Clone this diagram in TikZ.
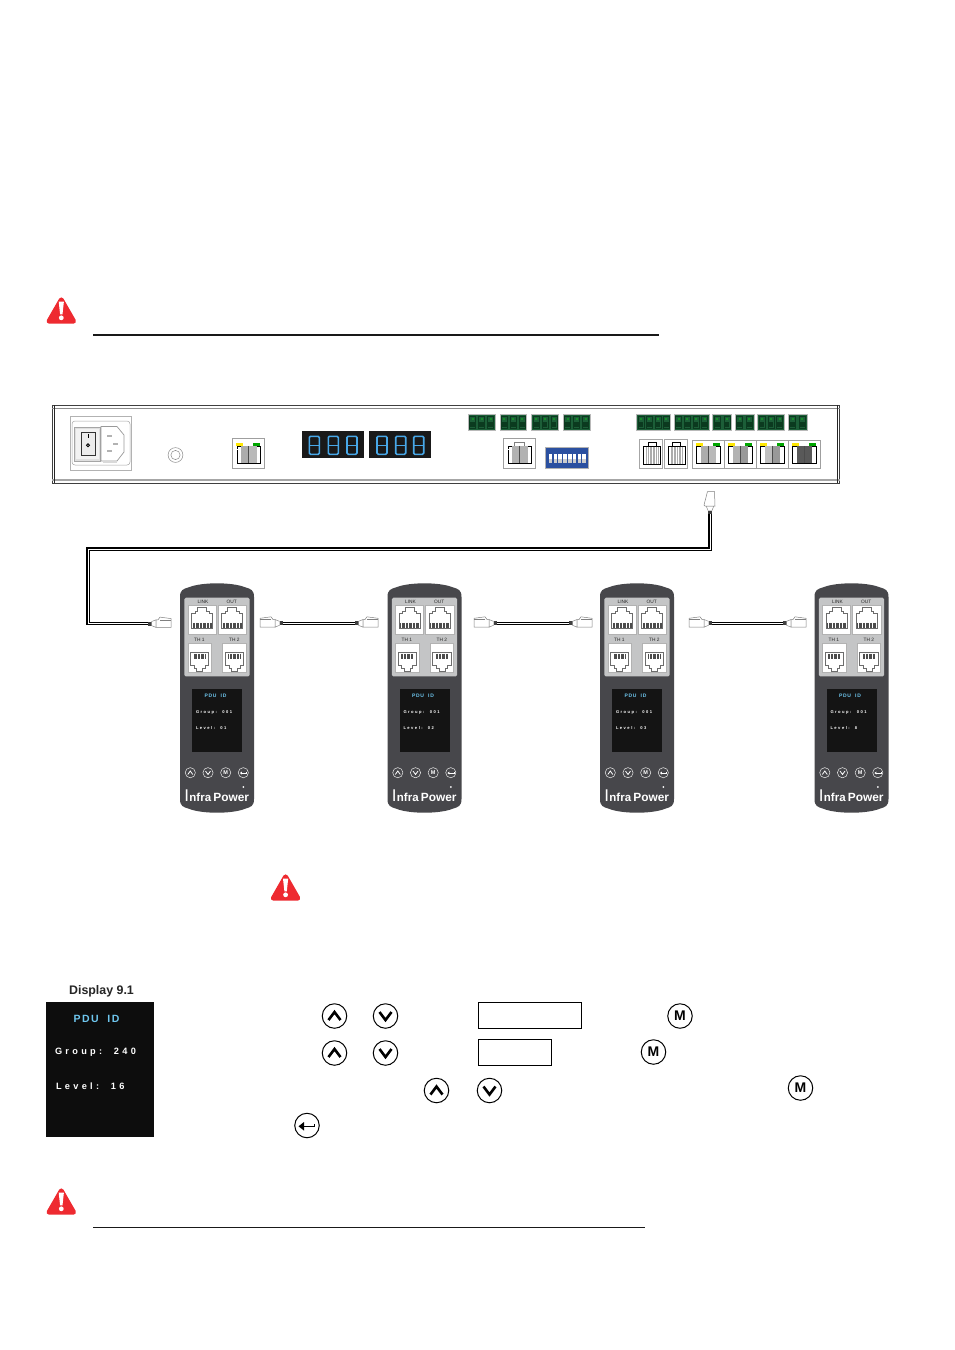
\documentclass[tikz,border=0pt]{standalone}
\usepackage{fontspec}
\setmainfont{Liberation Sans}
\newfontfamily\lsfont[LetterSpace=36]{Liberation Sans}
\newfontfamily\idfont[LetterSpace=14]{Liberation Sans}
\definecolor{warnred}{HTML}{EE2A30}
\definecolor{pdubody}{HTML}{47474B}
\definecolor{panelgray}{HTML}{C4C5C6}
\definecolor{lcdblue}{HTML}{48A8E8}
\definecolor{cyantext}{HTML}{6EC6EE}
\definecolor{termgreen}{HTML}{1C5E38}
\definecolor{termdark}{HTML}{0B3A1F}
\definecolor{dipblue}{HTML}{2B50A0}
\tikzset{
  x=1pt,y=-1pt,
  lbl/.style={inner sep=0pt,outer sep=0pt},
  cable/.style={draw=black,line width=1.15pt,double=white,double distance=1pt,line join=miter},
  thincable/.style={draw=black,line width=.85pt,double=white,double distance=.8pt},
  bigbtn/.style={circle,draw=black,line width=1pt,minimum size=24.5pt,inner sep=0pt,fill=white},
  outlinebox/.style={draw=black,line width=1pt,fill=white},
  jackline/.style={draw=gray!85!black,line width=.45pt},
}
% warning triangle: x = centre, y = top
\newcommand{\warnsign}[2]{%
  \begin{scope}[shift={(#1,#2)}]
    \filldraw[warnred,line width=5pt,line join=round] (0,1.4) -- (12.2,22.7) -- (-12.2,22.7) -- cycle;
    \fill[white] (-2.6,3) -- (2.6,3) -- (1.2,15.8) -- (-1.2,15.8) -- cycle;
    \fill[white] (0,19.3) circle (2.4);
  \end{scope}}
% big keypad buttons
\newcommand{\upbtn}[3]{\node[bigbtn] (#1) at (#2,#3) {};
  \draw[line width=2.6pt,line join=miter] (#2-6,#3+4) -- (#2,#3-4) -- (#2+6,#3+4);}
\newcommand{\downbtn}[3]{\node[bigbtn] (#1) at (#2,#3) {};
  \draw[line width=2.6pt,line join=miter] (#2-6,#3-4) -- (#2,#3+4) -- (#2+6,#3-4);}
\newcommand{\mbtn}[3]{\node[bigbtn,font=\bfseries\fontsize{14}{14}\selectfont] (#1) at (#2,#3) {M};}
% seven segment digit
\newcommand{\digit}[2]{%
  \draw[lcdblue,line width=1.6pt,rounded corners=1.2pt] (#1-5,#2) rectangle (#1+5,#2+18);
  \draw[lcdblue,line width=1.6pt] (#1-5,#2+9) -- (#1+5,#2+9);}
% green terminal block
\newcommand{\term}[3]{%
  \fill[termgreen] (#1,414.4) rectangle (#2,430);
  \draw[gray!55,line width=.5pt] (#1,414.4) rectangle (#2,430);
  \pgfmathsetmacro{\tw}{(#2-#1)/#3}
  \foreach \k in {1,...,#3}{
    \pgfmathsetmacro{\tc}{#1+(\k-.5)*\tw}
    \draw[termdark,line width=.6pt] (\tc-3,416.5) rectangle (\tc+3,428);
    \fill[termdark] (\tc-2.4,421.5) rectangle (\tc+2.4,427);
    \fill[green!30!termgreen] (\tc-1,418) rectangle (\tc+1,420);
  }}
% RJ45 on the rack: x, box top, leds, fill left, fill right
\newcommand{\rackport}[5]{%
  \begin{scope}[shift={(#1,438.3)}]
    \fill[white] (0,#2) rectangle (32,30);
    \draw[gray!75,line width=.8pt] (0,#2) rectangle (32,30);
    \ifnum#3=1
      \fill[yellow!90!orange] (3.4,4.4) rectangle (10.7,7.7);
      \fill[green!65!black] (20.4,4.4) rectangle (27.7,7.7);
    \else
      \draw[gray,line width=.4pt] (11,4) rectangle (21,8.4);
    \fi
    \draw[black,line width=.75pt] (4.4,25.4) -- (4.4,8.4) -- (27.6,8.4) -- (27.6,25.4) -- cycle;
    \fill[#4] (8.6,7.5) rectangle (16,25);
    \fill[#5] (16,7.5) rectangle (24,25);
    \draw[black!70,line width=.3pt] (16,7.5) -- (16,25);
    \draw[white,line width=.8pt] (4.9,11.5) -- (7.8,11.5) (24.2,11.5) -- (27.1,11.5);
  \end{scope}}
% narrow RJ45 with pins on the rack
\newcommand{\pinport}[1]{%
  \begin{scope}[shift={(#1,438.3)}]
    \fill[white] (0,1) rectangle (23,30);
    \draw[gray!70,line width=.7pt] (0,1) rectangle (23,30);
    \draw[black,line width=.6pt] (8.6,8) -- (8.6,4) -- (16.4,4) -- (16.4,8);
    \draw[black,line width=.75pt] (4,26) -- (4,8) -- (21,8) -- (21,26) -- cycle;
    \foreach \i in {7,8.6,...,18.4}{\draw[gray!65,line width=.8pt] (\i,9) -- (\i,25.5);}
  \end{scope}}
% small pins
\newcommand{\pinsrow}[4]{\foreach \i in {#1,#2,...,#3}{\draw[#4] (\i,0) -- (\i,4.8);}}
% PDU link port
\newcommand{\linkport}[3]{%
  \begin{scope}[shift={(#1,#2)}]
    \fill[white] (0,0) rectangle (#3,29.3);
    \draw[gray!60,line width=.4pt] (0,0) rectangle (#3,29.3);
    \draw[jackline] (4,23.5) -- (4,8.5) -- (7.5,8.5) -- (7.5,6) -- (10,6) -- (10,2.5) -- (19,2.5) -- (19,6) -- (21.5,6) -- (21.5,8.5) -- (25,8.5) -- (25,23.5) -- cycle;
    \begin{scope}[shift={(0,17.8)}]
      \pinsrow{5.4}{6.8}{24}{black!70,line width=.65pt}
    \end{scope}
  \end{scope}}
% PDU TH port
\newcommand{\thport}[2]{%
  \begin{scope}[shift={(#1,#2)}]
    \fill[white] (0,0) rectangle (23.5,29);
    \draw[gray!60,line width=.4pt] (0,0) rectangle (23.5,29);
    \draw[jackline] (2.6,9) -- (21,9) -- (21,22) -- (17.5,22) -- (17.5,25) -- (15,25) -- (15,28) -- (9,28) -- (9,25) -- (6.5,25) -- (6.5,22) -- (2.6,22) -- cycle;
    \begin{scope}[shift={(0,10.8)}]
      \pinsrow{6.2}{7.6}{18}{black!70,line width=.65pt}
    \end{scope}
  \end{scope}}
% PDU: name, x offset, group, level
\newcommand{\pdu}[4]{%
  \begin{scope}[shift={(#2,0)}]
    \fill[pdubody] (0,597) .. controls (0,590) and (3,589) .. (9,587.2)
      .. controls (22,582) and (52,582) .. (65,587.2)
      .. controls (71,589) and (74,590) .. (74,597)
      -- (74,799) .. controls (74,806) and (71,807) .. (65,808.8)
      .. controls (52,814) and (22,814) .. (9,808.8)
      .. controls (3,807) and (0,806) .. (0,799) -- cycle;
    \fill[panelgray,rounded corners=1.5pt] (4.3,597.7) rectangle (69.7,676.3);
    \linkport{7.7}{605}{28.4}
    \linkport{37.7}{605}{28.6}
    \thport{7.7}{643}
    \thport{42.6}{643}
    \node[lbl,font=\fontsize{4.8}{5}\selectfont,text=black!85] (#1link) at (23,602) {LINK};
    \node[lbl,font=\fontsize{4.8}{5}\selectfont,text=black!85] (#1out) at (51.7,602) {OUT};
    \node[lbl,font=\fontsize{4.8}{5}\selectfont,text=black!85] (#1tha) at (19.3,639.7) {TH 1};
    \node[lbl,font=\fontsize{4.8}{5}\selectfont,text=black!85] (#1thb) at (54.3,639.7) {TH 2};
    \fill[black!92] (12,689) rectangle (62,752);
    \node[lbl,text=cyantext,font=\idfont\bfseries\fontsize{5}{5}\selectfont] (#1id) at (35.5,696) {PDU\ \ ID};
    \node[lbl,anchor=west,text=white,font=\lsfont\bfseries\fontsize{4.1}{5}\selectfont] (#1grp) at (16,712) {Group:\ \ #3};
    \node[lbl,anchor=west,text=white,font=\lsfont\bfseries\fontsize{4.1}{5}\selectfont] (#1lvl) at (16,727.7) {Level:\ \ #4};
    % small buttons
    \foreach \bx in {10.3,28,45.7,63.3}{\draw[white!85!gray,line width=.5pt] (\bx,772.7) circle (5.1);}
    \draw[white,line width=.8pt] (7.8,774.5) -- (10.3,771) -- (12.8,774.5);
    \draw[white,line width=.8pt] (25.5,771) -- (28,774.5) -- (30.5,771);
    \node[lbl,text=white,font=\bfseries\fontsize{5.5}{5.5}\selectfont] (#1m) at (45.7,772.7) {M};
    \draw[white,line width=.6pt] (61,773) -- (66.3,773) -- (66.3,771.9);
    \fill[white] (59.9,773) -- (61.9,771.5) -- (61.9,774.5) -- cycle;
    \node[lbl,anchor=base west,text=white] (#1brand) at (4.4,801)
      {{\fontsize{17}{17}\selectfont I}\hspace{.3pt}{\bfseries\fontsize{11.5}{12}\selectfont nfra}\hspace{2.2pt}{\bfseries\fontsize{11.9}{13}\selectfont Power}};
    \fill[white] (63.3,787) circle (1);
  \end{scope}}
% horizontal plug: tail x, y, direction
\newcommand{\hplug}[3]{%
  \begin{scope}[shift={(#1,#2)},xscale=#3]
    \fill[black!75] (0,-2) rectangle (3.5,2);
    \draw[gray,line width=.45pt,fill=white] (3.5,-2) -- (8,-3.8) -- (8,3.8) -- (3.5,2) -- cycle;
    \draw[gray,line width=.5pt,fill=white] (8,-3.8) -- (10,-3.8) -- (12,-6.5) -- (23,-5) -- (23,3.8) -- (8,3.8) -- cycle;
    \draw[gray,line width=.4pt] (12,-3.8) -- (23,-3.8);
  \end{scope}}
\begin{document}
\begin{tikzpicture}
\path[use as bounding box] (0,0) rectangle (954,1350);
\fill[white] (0,0) rectangle (954,1350);

% top rule
\warnsign{61.3}{298.5}
\draw[black!90,line width=2pt] (93,334.5) -- (659,334.5);

% rack unit
\draw[black!75,line width=1pt] (52,405.3) rectangle (839.5,483);
\draw[gray!90,line width=.8pt] (52,408) -- (839.5,408);
\draw[gray!70,line width=2pt] (52,479.6) -- (839.5,479.6);
\draw[black!85,line width=.8pt] (54.4,405.3) -- (54.4,483) (837,405.3) -- (837,483);

% power inlet
\draw[gray!60,line width=.5pt] (70,416.7) rectangle (131.7,470.7);
\draw[gray!70,line width=.5pt,rounded corners=3pt] (72,421) rectangle (130,465);
\fill[gray!25] (74,427) rectangle (100.5,461);
\draw[gray!70,line width=.5pt] (74,427) rectangle (100.5,461);
\fill[white!90!gray] (76,429) rectangle (99,459);
\draw[black!80,line width=.7pt,fill=gray!15] (81,432.5) rectangle (95,455.5);
\draw[black,line width=.8pt] (88,434) -- (88,438);
\draw[black,line width=.8pt] (88,445.3) circle (1.5);
\draw[gray!80,line width=.7pt,fill=white] (101,426.5) -- (117,426.5) -- (124,435) -- (124,452) -- (117,461) -- (101,461) -- cycle;
\fill[gray!60] (107,434.5) rectangle (111.5,436.5);
\fill[gray!60] (107,449.5) rectangle (111.5,451.5);
\fill[gray!60] (113,442.5) rectangle (117.5,444.5);
\fill[gray!30] (103,461) rectangle (117,462.5);

% earth stud
\draw[gray!90,line width=.5pt] (175.5,455) circle (7.4);
\draw[gray!90,line width=.5pt] (175.5,455) circle (4.6);

% rack ports
\rackport{232.5}{0}{1}{gray!65}{gray!55}
\rackport{503.5}{0}{0}{gray!60}{gray!60}

% digits
\fill[black!90] (302.3,431) rectangle (363.7,458.3);
\fill[black!90] (369.3,431) rectangle (430.7,458.3);
\digit{314.3}{436.3}\digit{333.3}{436.3}\digit{352}{436.3}
\digit{382}{436.3}\digit{400.7}{436.3}\digit{418.7}{436.3}

% terminals
\term{468.3}{495}{3}
\term{500}{526.7}{3}
\term{531.7}{558.3}{3}
\term{563.3}{590}{3}
\term{636.7}{670.7}{4}
\term{674.3}{709}{4}
\term{712.7}{731.7}{2}
\term{735}{754}{2}
\term{757.7}{784}{3}
\term{788}{807}{2}

% DIP switch
\fill[dipblue] (545,447.3) rectangle (588.3,468.3);
\draw[gray!60,line width=.5pt] (545,447.3) rectangle (588.3,468.3);
\foreach \i in {0,...,7}{
  \fill[white] (548.8+\i*4.8,453.5) rectangle (552.3+\i*4.8,463);
  \fill[gray!40] (548.8+\i*4.8,458.5) rectangle (552.3+\i*4.8,463);
}

% pin ports
\pinport{639.8}
\pinport{664}

% four LED ports
\fill[gray!35] (692.3,440) rectangle (819.7,442.5);
\rackport{692.3}{2.4}{1}{gray!65}{gray!55}
\rackport{724.3}{2.4}{1}{gray!60}{gray!80}
\rackport{756.3}{2.4}{1}{gray!50}{gray!120!black}
\rackport{788.3}{2.4}{1}{black!65}{black!65}

% PDUs
\pdu{pa}{180}{001}{01}
\pdu{pb}{387.5}{001}{02}
\pdu{pc}{600}{001}{03}
\pdu{pd}{814.5}{001}{8}

% long cable
\coordinate (topTail) at (710,514);
\coordinate (elbowA) at (88,549);
\coordinate (firstTail) at (148,623.6);
\draw[cable] (topTail) |- (elbowA) |- (firstTail);
\begin{scope}[shift={(710,514)},rotate=90]
  \fill[black!75] (0,-2) rectangle (3.5,2);
  \draw[gray,line width=.45pt,fill=white] (3.5,-2) -- (8,-3.8) -- (8,3.8) -- (3.5,2) -- cycle;
  \draw[gray,line width=.5pt,fill=white] (8,-5) -- (8,5) -- (22.5,4.5) -- (22.5,-2.5) -- (9,-6) -- cycle;
\end{scope}
\hplug{148}{623.6}{1}

% short cables
\coordinate (b1) at (283,623.3); \coordinate (b2) at (355,623.3);
\coordinate (c1) at (497,623.3); \coordinate (c2) at (569,623.3);
\coordinate (d1) at (712,623.3); \coordinate (d2) at (783,623.3);
\draw[thincable] (b1) -- (b2);
\draw[thincable] (c1) -- (c2);
\draw[thincable] (d1) -- (d2);
\hplug{283}{623.3}{-1}\hplug{355}{623.3}{1}
\hplug{497}{623.3}{-1}\hplug{569}{623.3}{1}
\hplug{712}{623.3}{-1}\hplug{783}{623.3}{1}

% mid warning
\warnsign{285.6}{875.5}

% display 9.1
\node[lbl,font=\bfseries\fontsize{12.4}{13}\selectfont,text=black!85] (disptitle) at (101.5,991) {Display 9.1};
\fill[black!95] (46,1002) rectangle (154,1137);
\node[lbl,text=cyantext,font=\idfont\bfseries\fontsize{10.5}{11}\selectfont] (dispid) at (96.5,1018.5) {PDU\ \ ID};
\node[lbl,anchor=west,text=white,font=\lsfont\bfseries\fontsize{9.2}{10}\selectfont] (dispgroup) at (55,1052.7) {Group:\ \ 240};
\node[lbl,anchor=west,text=white,font=\lsfont\bfseries\fontsize{9.2}{10}\selectfont] (displevel) at (56,1086.3) {Level:\ \ 16};

% keypad row 1
\upbtn{ua}{334.5}{1016}
\downbtn{da}{385.5}{1016}
\node[outlinebox,minimum width=103.5pt,minimum height=26.5pt,inner sep=0pt] (boxa) at (530,1015.7) {};
\mbtn{ma}{680}{1016}
% keypad row 2
\upbtn{ub}{334.5}{1053}
\downbtn{db}{385.5}{1053}
\node[outlinebox,minimum width=73.5pt,minimum height=26pt,inner sep=0pt] (boxb) at (514.8,1052) {};
\mbtn{mb}{653.5}{1052}
% keypad row 3
\upbtn{uc}{436.5}{1090.5}
\downbtn{dc}{489.5}{1090.5}
\mbtn{mc}{800.5}{1088}
% enter
\node[bigbtn] (ent) at (307,1125.5) {};
\draw[line width=1.3pt] (303,1126.3) -- (314.5,1126.3) -- (314.5,1124);
\fill[black] (298.5,1126.3) -- (304,1122) -- (304,1130.6) -- cycle;

% bottom rule
\warnsign{61.3}{1189.5}
\draw[black!90,line width=1pt] (93,1227.3) -- (645,1227.3);
\end{tikzpicture}
\end{document}
